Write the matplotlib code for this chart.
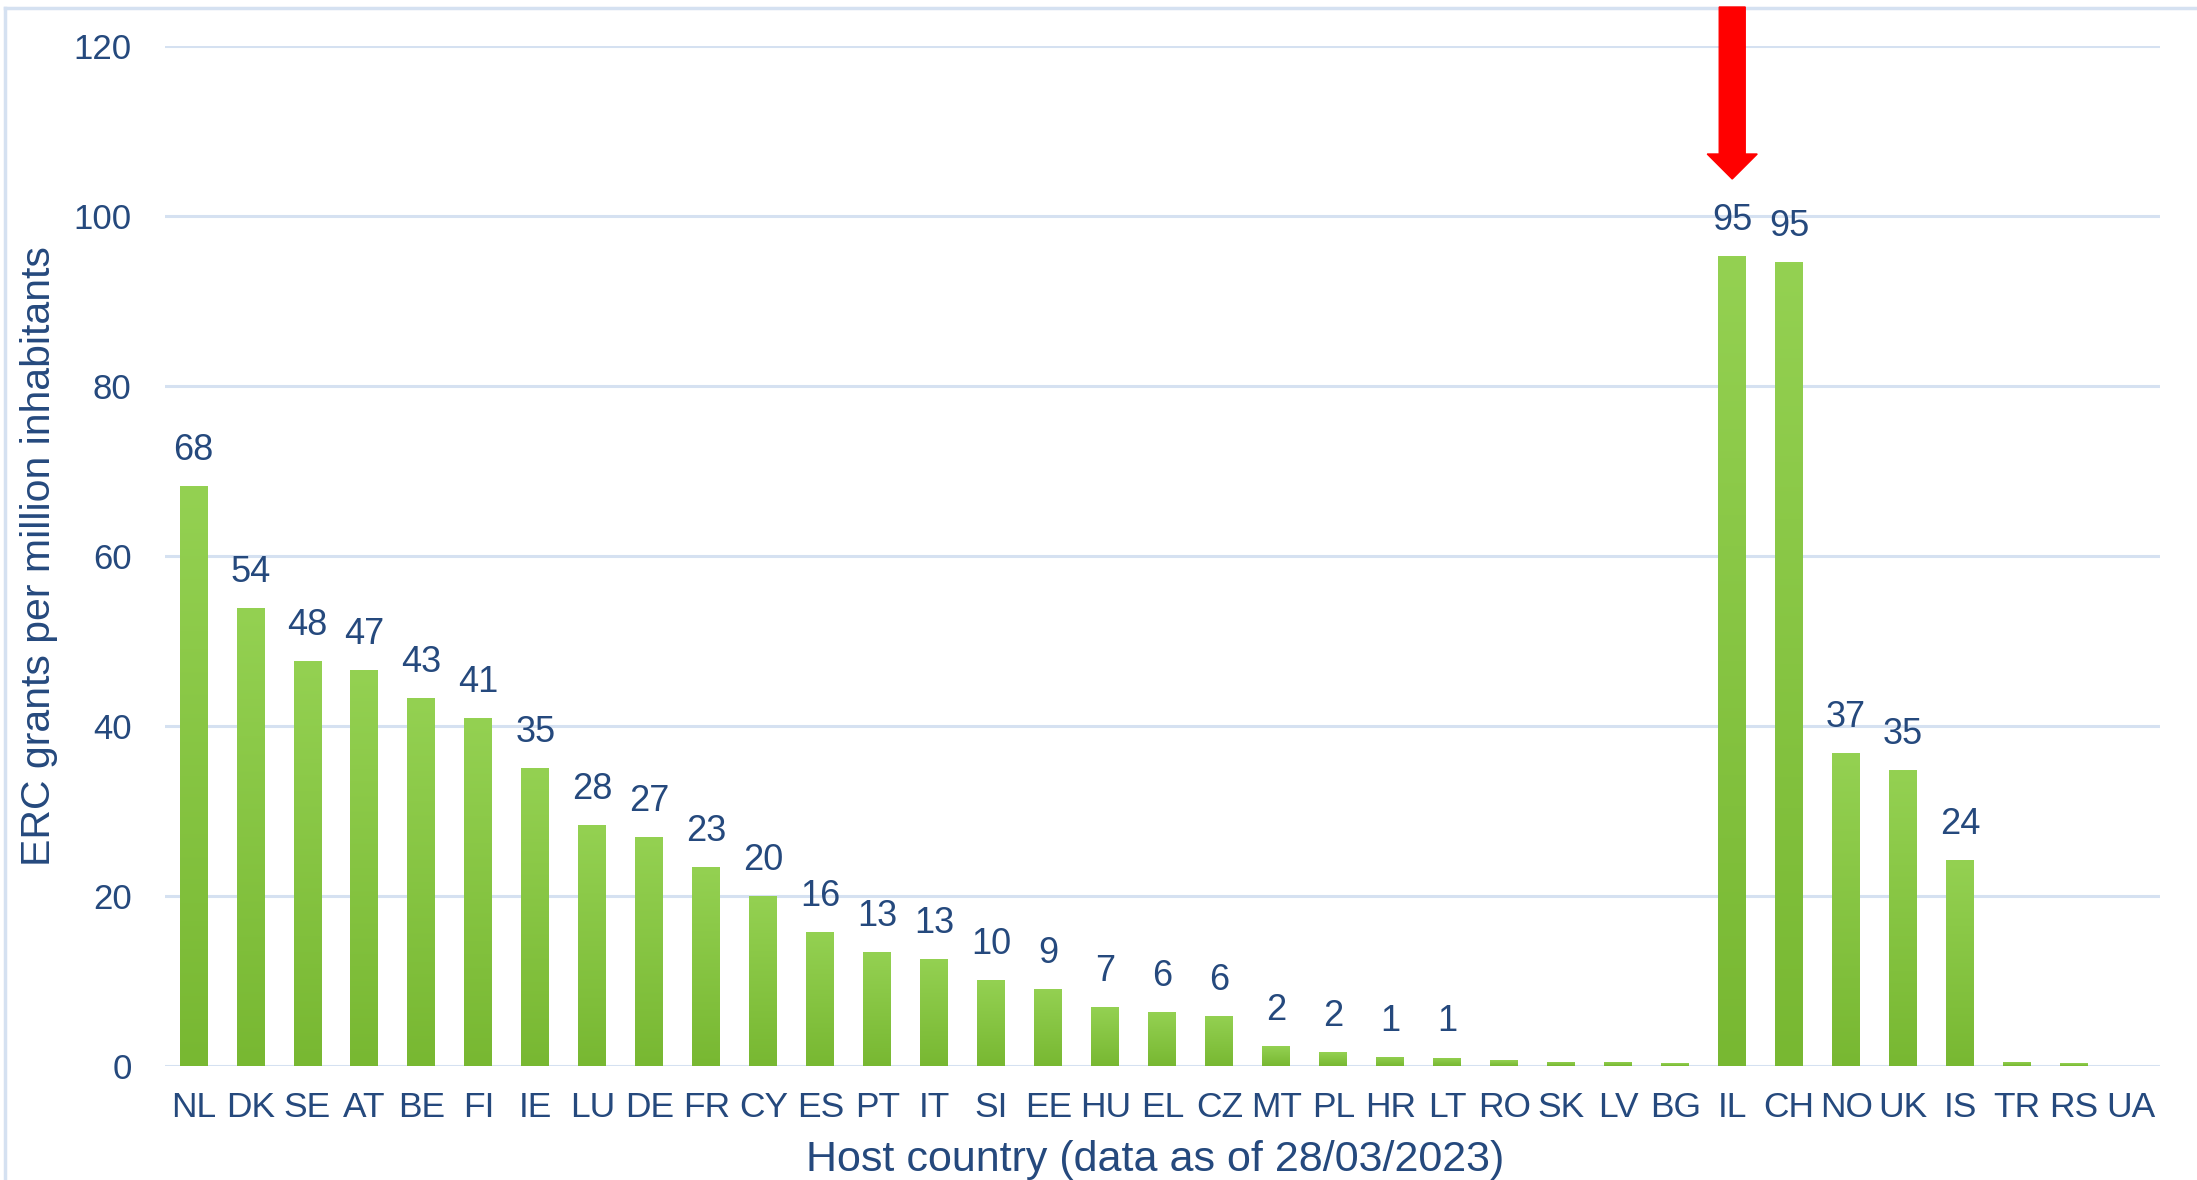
import matplotlib
matplotlib.use('Agg')
import matplotlib.pyplot as plt
import numpy as np
from matplotlib.patches import Polygon
from matplotlib.lines import Line2D
from matplotlib.colors import LinearSegmentedColormap

countries = ['NL', 'DK', 'SE', 'AT', 'BE', 'FI', 'IE', 'LU', 'DE', 'FR', 'CY', 'ES',
             'PT', 'IT', 'SI', 'EE', 'HU', 'EL', 'CZ', 'MT', 'PL', 'HR', 'LT', 'RO',
             'SK', 'LV', 'BG', 'IL', 'CH', 'NO', 'UK', 'IS', 'TR', 'RS', 'UA']
grants = [68.2, 53.9, 47.6, 46.6, 43.3, 40.9, 35.1, 28.3, 26.9, 23.4, 20.0, 15.8,
          13.4, 12.6, 10.1, 9.1, 6.9, 6.3, 5.9, 2.3, 1.6, 1.1, 1.0, 0.7,
          0.5, 0.5, 0.3, 95.3, 94.6, 36.8, 34.8, 24.2, 0.5, 0.3, 0.0]
highlight = 'IL'

text_col = '#25497d'
grid_col = '#d5e1f1'

plt.rcParams['font.family'] = ['Liberation Sans', 'DejaVu Sans']

fig = plt.figure(figsize=(21.97, 11.8), dpi=100)
ax = fig.add_axes([0.0751, 0.0966, 0.9079, 0.8644])

x = np.arange(len(countries))
bars = ax.bar(x, grants, width=0.49, color='none', edgecolor='none', zorder=3)

# vertical green gradient inside each bar
cmap = LinearSegmentedColormap.from_list('g', ['#78b832', '#94d152'])
grad = np.linspace(0, 1, 256).reshape(-1, 1)
for b in bars:
    h = b.get_height()
    if h <= 0:
        continue
    x0 = b.get_x()
    im = ax.imshow(grad, cmap=cmap, origin='lower', aspect='auto',
                   extent=[x0, x0 + b.get_width(), 0, h], zorder=3)
    im.set_clip_path(b)

# only values of at least one get a label
for i, v in enumerate(grants):
    if v >= 0.95:
        ax.annotate(f'{round(v)}', (i, v), xytext=(0, 13), textcoords='offset points',
                    ha='center', va='bottom', fontsize=26, color=text_col)

ax.set_xlim(-0.5, len(countries) - 0.5)
ax.set_ylim(0, 120)
ax.set_yticks(range(0, 121, 20))
ax.set_xticks(x)
ax.set_xticklabels(countries)
ax.grid(axis='y', color=grid_col, linewidth=2.2, zorder=0)
ax.set_axisbelow(True)
for s in ax.spines.values():
    s.set_visible(False)
ax.tick_params(length=0, labelcolor=text_col)
ax.tick_params(axis='y', pad=24, labelsize=25)
ax.tick_params(axis='x', pad=18, labelsize=25.5)
ax.set_ylabel('ERC grants per million inhabitants', fontsize=29.5, color=text_col, labelpad=11)
ax.set_xlabel('Host country (data as of 28/03/2023)', fontsize=31, color=text_col)
ax.xaxis.set_label_coords(0.4965, -0.073)

# light frame at top and left of the slide
fig.add_artist(Line2D([5 / 2197, 1], [1 - 8 / 1180] * 2, transform=fig.transFigure,
                      color=grid_col, linewidth=2.5))
fig.add_artist(Line2D([5 / 2197] * 2, [0, 1 - 8 / 1180], transform=fig.transFigure,
                      color=grid_col, linewidth=2.5))

# red arrow pointing at the highlighted country
W, H = 2197, 1180
cx = ax.transData.transform((countries.index(highlight), 0))[0] / W
top, neck, tip = 1 - 7 / H, 1 - 154 / H, 1 - 179 / H
sw, hw = 13 / W, 25 / W
arrow = Polygon([(cx - sw, top), (cx + sw, top), (cx + sw, neck), (cx + hw, neck),
                 (cx, tip), (cx - hw, neck), (cx - sw, neck)],
                closed=True, transform=fig.transFigure, color='#ff0000', zorder=10)
fig.add_artist(arrow)

fig.savefig('out.png', dpi=100)
